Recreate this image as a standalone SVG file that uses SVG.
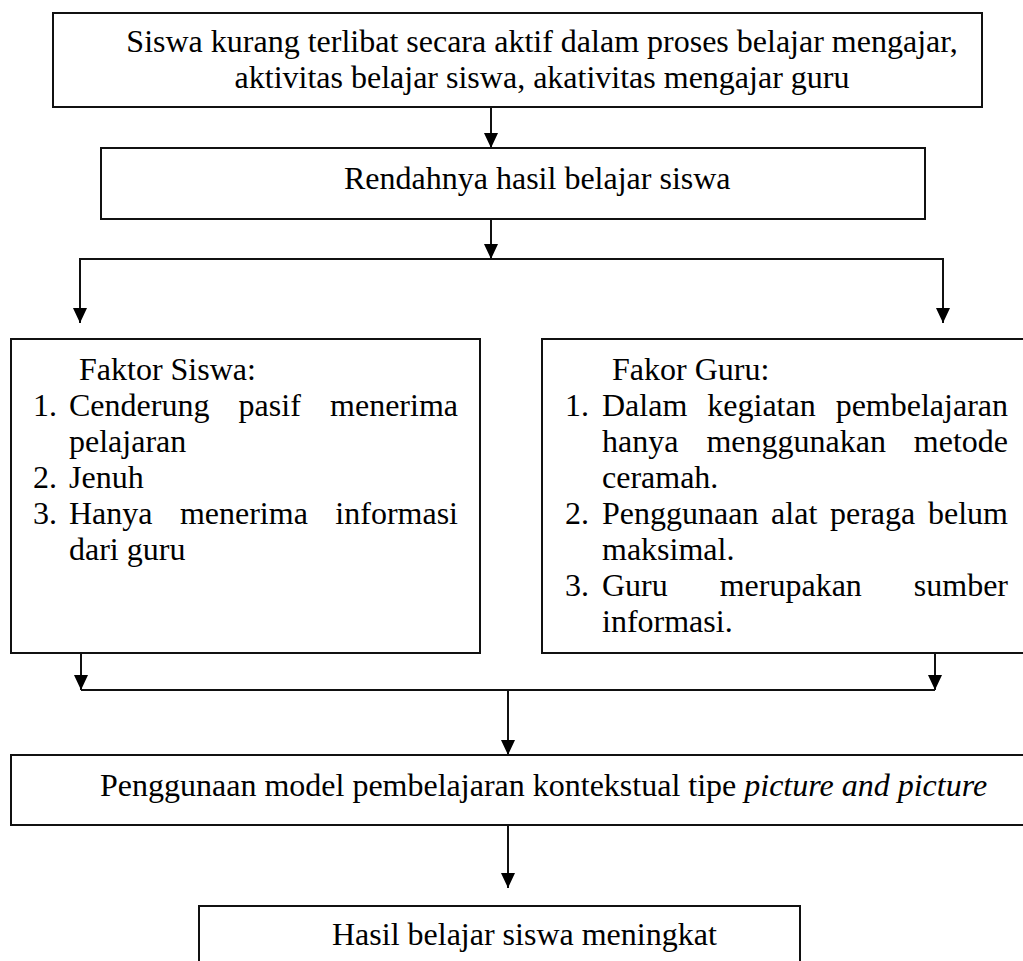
<svg xmlns="http://www.w3.org/2000/svg" width="1023" height="961" viewBox="0 0 1023 961">
<style>
.box{fill:#fff;stroke:#111;stroke-width:2}
.t{font-family:"Liberation Serif","Times New Roman",serif;font-size:32px;fill:#000}
.i{font-style:italic}
.e{text-anchor:end}
.m{text-anchor:middle}
.c{fill:none;stroke:#111;stroke-width:2}
</style>
<defs>
<marker id="ah" viewBox="0 0 15 14" refX="15" refY="7" markerWidth="15" markerHeight="14" markerUnits="userSpaceOnUse" orient="auto">
<path d="M0,0 L15,7 L0,14 z" fill="#000"/>
</marker>
</defs>
<rect width="1023" height="961" fill="#fff"/>
<g id="connectors">
<line class="c" x1="491" y1="107" x2="491" y2="148" marker-end="url(#ah)"/>
<line class="c" x1="491" y1="219" x2="491" y2="259" marker-end="url(#ah)"/>
<polyline class="c" points="80,323 80,259 943,259 943,323"/>
<line class="c" x1="80" y1="259" x2="80" y2="323" marker-end="url(#ah)"/>
<line class="c" x1="943" y1="259" x2="943" y2="323" marker-end="url(#ah)"/>
<line class="c" x1="81" y1="653" x2="81" y2="690" marker-end="url(#ah)"/>
<line class="c" x1="935" y1="653" x2="935" y2="690" marker-end="url(#ah)"/>
<line class="c" x1="81" y1="690" x2="935" y2="690"/>
<line class="c" x1="508" y1="690" x2="508" y2="755" marker-end="url(#ah)"/>
<line class="c" x1="508" y1="825" x2="508" y2="888" marker-end="url(#ah)"/>
</g>
<g id="node-masalah">
<rect class="box" x="53" y="13" width="929" height="94"/>
<text class="t m" x="542" y="52">Siswa kurang terlibat secara aktif dalam proses belajar mengajar,</text>
<text class="t m" x="542" y="88">aktivitas belajar siswa, akativitas mengajar guru</text>
</g>
<g id="node-rendah">
<rect class="box" x="101" y="148" width="824" height="71"/>
<text class="t" x="344" y="189">Rendahnya hasil belajar siswa</text>
</g>
<g id="node-faktor-siswa">
<rect class="box" x="11" y="339" width="469" height="314"/>
<text class="t" x="79" y="380">Faktor Siswa:</text>
<text class="t" x="33" y="416">1.</text>
<text class="t" x="69" y="416">Cenderung</text>
<text class="t" x="238.6" y="416">pasif</text>
<text class="t e" x="458" y="416">menerima</text>
<text class="t" x="69" y="452">pelajaran</text>
<text class="t" x="33" y="488">2.</text>
<text class="t" x="69" y="488">Jenuh</text>
<text class="t" x="33" y="524">3.</text>
<text class="t" x="69" y="524">Hanya</text>
<text class="t" x="179.9" y="524">menerima</text>
<text class="t e" x="458" y="524">informasi</text>
<text class="t" x="69" y="560">dari guru</text>
</g>
<g id="node-faktor-guru">
<rect class="box" x="542" y="339" width="495" height="314"/>
<text class="t" x="612" y="380">Fakor Guru:</text>
<text class="t" x="565" y="416">1.</text>
<text class="t" x="602" y="416">Dalam</text>
<text class="t" x="707.3" y="416">kegiatan</text>
<text class="t e" x="1008" y="416">pembelajaran</text>
<text class="t" x="602" y="452">hanya</text>
<text class="t" x="706.4" y="452">menggunakan</text>
<text class="t e" x="1008" y="452">metode</text>
<text class="t" x="602" y="488">ceramah.</text>
<text class="t" x="565" y="524">2.</text>
<text class="t" x="602" y="524">Penggunaan</text>
<text class="t" x="771.1" y="524">alat</text>
<text class="t" x="830" y="524">peraga</text>
<text class="t e" x="1008" y="524">belum</text>
<text class="t" x="602" y="560">maksimal.</text>
<text class="t" x="565" y="596">3.</text>
<text class="t" x="602" y="596">Guru</text>
<text class="t" x="719.7" y="596">merupakan</text>
<text class="t e" x="1008" y="596">sumber</text>
<text class="t" x="602" y="632">informasi.</text>
</g>
<g id="node-model">
<rect class="box" x="11" y="755" width="1026" height="70"/>
<text class="t" x="100" y="796">Penggunaan model pembelajaran kontekstual tipe <tspan class="i">picture and picture</tspan></text>
</g>
<g id="node-hasil">
<rect class="box" x="199" y="906" width="601" height="80"/>
<text class="t" x="332" y="945">Hasil belajar siswa meningkat</text>
</g>
</svg>
